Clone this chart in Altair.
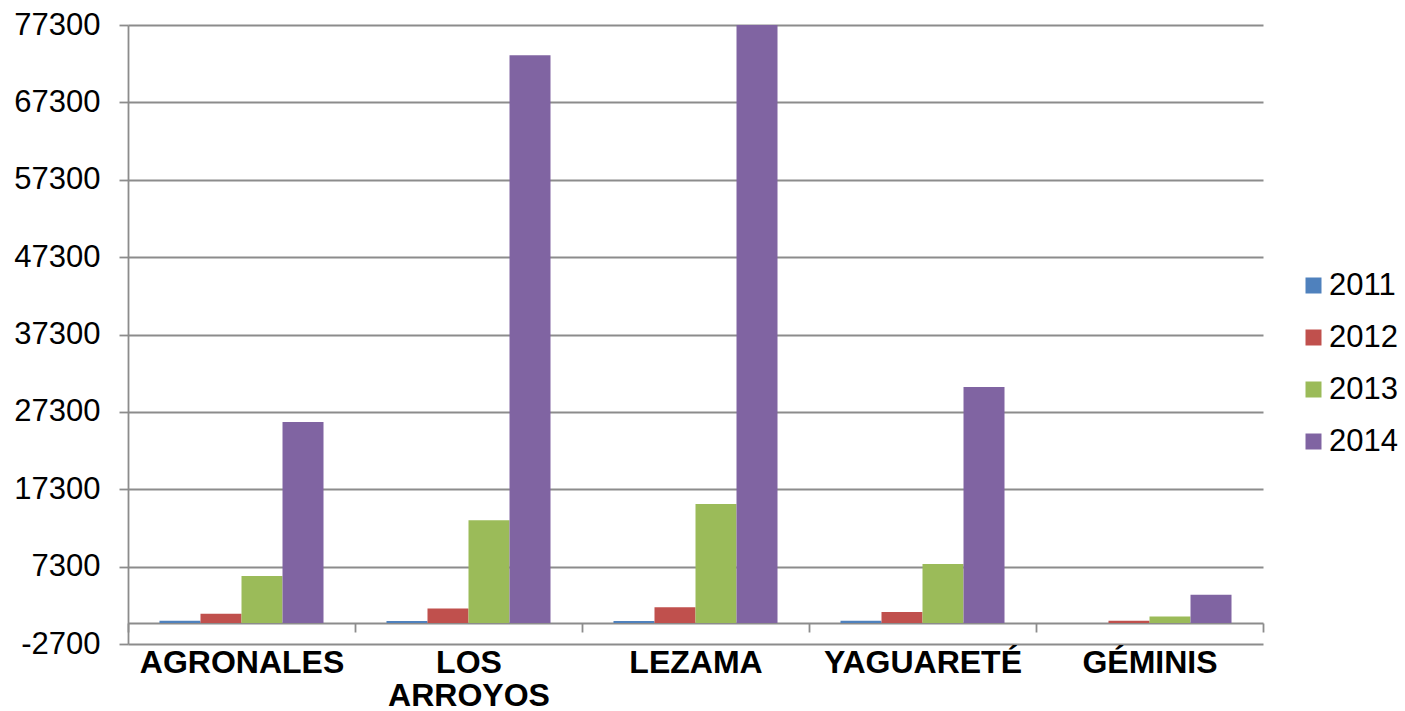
import altair as alt
import pandas as pd

# Sites and yearly totals per site
categories = ["AGRONALES", "LOS ARROYOS", "LEZAMA", "YAGUARETÉ", "GÉMINIS"]
years = ["2011", "2012", "2013", "2014"]
v2011 = [300, 270, 270, 300, 0]
v2012 = [1200, 1900, 2050, 1450, 300]
v2013 = [6100, 13300, 15400, 7650, 850]
v2014 = [26000, 73400, 77300, 30500, 3650]
y_ticks = [-2700, 7300, 17300, 27300, 37300, 47300, 57300, 67300, 77300]
colors = ["#4F81BD", "#C0504D", "#9BBB59", "#8064A2"]

rows = []
for year, series in zip(years, [v2011, v2012, v2013, v2014]):
    for site, val in zip(categories, series):
        rows.append({"site": site, "year": year, "value": val})
df = pd.DataFrame(rows)

FONT = "Liberation Sans"
GRID = "#8c8c8c"
W, H = 1135, 619

bars = alt.Chart(df).mark_bar().encode(
    x=alt.X(
        "site:N",
        sort=categories,
        scale=alt.Scale(paddingInner=0, paddingOuter=0),
        axis=alt.Axis(
            title=None,
            offset=-21,
            grid=False,
            domainColor=GRID,
            domainWidth=1.8,
            tickColor=GRID,
            tickWidth=1.8,
            tickSize=9,
            tickBand="extent",
            labelAngle=0,
            labelFont=FONT,
            labelFontSize=32,
            labelFontWeight="bold",
            labelColor="black",
            labelPadding=15,
            labelLineHeight=33,
            labelLimit=0,
            labelExpr="split(datum.label, ' ')",
        ),
    ),
    xOffset=alt.XOffset(
        "year:N",
        sort=years,
        scale=alt.Scale(paddingInner=0, paddingOuter=0.768),
    ),
    y=alt.Y(
        "value:Q",
        scale=alt.Scale(domain=[-2700, 77300], nice=False, zero=False, clamp=True),
        axis=alt.Axis(
            title=None,
            values=y_ticks,
            labelExpr="'' + datum.value",
            grid=True,
            gridColor=GRID,
            gridWidth=1.8,
            domainColor=GRID,
            domainWidth=1.8,
            tickColor=GRID,
            tickWidth=1.8,
            tickSize=9,
            labelFont=FONT,
            labelFontSize=31,
            labelColor="black",
            labelPadding=19,
        ),
    ),
    y2=alt.datum(0),
    color=alt.Color(
        "year:N",
        sort=years,
        scale=alt.Scale(domain=years, range=colors),
        legend=alt.Legend(
            title=None,
            orient="none",
            legendX=1170,
            legendY=245,
            symbolType="square",
            symbolSize=256,
            symbolStrokeWidth=0,
            labelFont=FONT,
            labelFontSize=31,
            labelColor="black",
            labelOffset=0,
            labelLimit=0,
            rowPadding=20,
        ),
    ),
)

chart = bars.properties(
    width=W,
    height=H,
    autosize=alt.AutoSizeParams(type="none"),
    padding={"left": 128, "top": 25, "right": 142, "bottom": 67},
    background="white",
).configure_view(stroke=None)

chart.save("out.html", embed_options={"renderer": "svg", "actions": False})
